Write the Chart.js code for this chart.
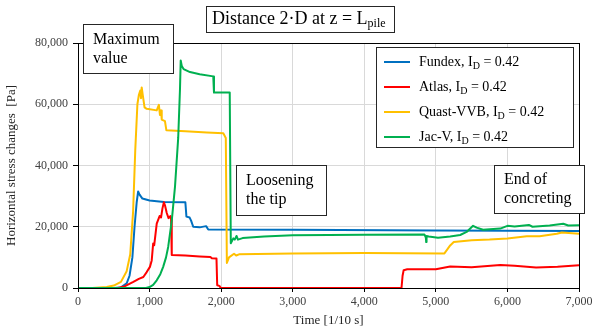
<!DOCTYPE html>
<html>
<head>
<meta charset="utf-8">
<script src="https://cdn.jsdelivr.net/npm/chart.js@4"></script>
<style>
  html, body { margin: 0; padding: 0; background: #fff; }
  #wrap { width: 592px; height: 329px; position: relative; }
</style>
</head>
<body>
<div id="wrap"><canvas id="stressChart"></canvas></div>
<script>
// time [1/10 s] and stress change [Pa]
const fundexT = [0, 500, 600, 680, 720, 760, 790, 820, 840, 860, 900, 1000, 1200, 1500, 1515, 1560, 1580, 1610, 1700, 1790, 1820, 3000, 5000, 7000];
const fundexV = [0, 0, 200, 1500, 4000, 10000, 20000, 28000, 31500, 30500, 29200, 28600, 28100, 28000, 23300, 23000, 22000, 20000, 19800, 20200, 19100, 19000, 18800, 18600];

const atlasT = [0, 550, 650, 773, 850, 913, 960, 1005, 1030, 1050, 1065, 1100, 1140, 1160, 1180, 1200, 1215, 1240, 1265, 1290, 1300, 1310, 1500, 1700, 1850, 1870, 1935, 1945, 1975, 1995, 4520, 4535, 4550, 4600, 5000, 5200, 5500, 5900, 6100, 6400, 6700, 7000];
const atlasV = [0, 0, 500, 2000, 3000, 3600, 5200, 6900, 9000, 14500, 14000, 21000, 23500, 23000, 26000, 28000, 27000, 24500, 22800, 23500, 22500, 10800, 10600, 10300, 10100, 9700, 9600, 900, 700, 0, 0, 4000, 5800, 6100, 6100, 7000, 6800, 7500, 7300, 6700, 6900, 7400];

const quastT = [0, 200, 400, 500, 600, 680, 730, 770, 800, 830, 850, 870, 880, 890, 905, 930, 960, 1100, 1130, 1145, 1160, 1170, 1215, 1235, 1500, 1800, 2030, 2065, 2080, 2110, 2180, 2210, 2250, 3000, 4000, 5120, 5200, 5250, 5500, 5750, 6000, 6270, 6450, 6690, 6760, 7000];
const quastV = [0, 0, 300, 800, 2000, 5500, 11000, 25000, 45000, 60000, 63000, 64500, 62000, 65500, 63000, 59000, 58500, 58000, 59800, 56500, 58000, 55000, 54500, 51500, 51200, 50800, 50500, 49000, 8200, 10000, 11200, 10600, 11000, 11300, 11400, 11300, 13900, 15000, 15600, 15800, 16200, 16900, 16900, 17700, 18100, 17700];

const jacT = [0, 950, 1000, 1050, 1100, 1150, 1190, 1230, 1260, 1310, 1355, 1400, 1425, 1435, 1450, 1475, 1565, 1700, 1890, 1900, 2120, 2135, 2170, 2190, 2215, 2235, 2300, 2600, 3000, 4000, 4840, 4860, 4865, 4870, 4900, 5030, 5200, 5340, 5430, 5520, 5570, 5660, 5900, 6000, 6100, 6300, 6350, 6590, 6780, 6850, 7000];
const jacV = [0, 0, 300, 1000, 2500, 4500, 6900, 10000, 13400, 22000, 33000, 49000, 65000, 74300, 72500, 71500, 70500, 69800, 69100, 63800, 63800, 14600, 16200, 15800, 17000, 15800, 16300, 16800, 17200, 17400, 17500, 16500, 15000, 17000, 16800, 16400, 16800, 17300, 18300, 20300, 19700, 19000, 19400, 20300, 20100, 20600, 20000, 20400, 21000, 20400, 20500];

const seriesNames = ['Fundex', 'Atlas', 'Quast-VVB', 'Jac-V'];
const seriesColors = ['#0070C0', '#FF0000', '#FFC000', '#00B050'];
const xTicksMax = 7000;
const yTicksMax = 80000;

function pairs(t, v) {
    return t.map((x, i) => ({ x: x, y: v[i] }));
}

const serif = '"Liberation Serif", "Times New Roman", serif';

function box(ctx, x, y, w, h) {
    ctx.save();
    ctx.fillStyle = '#fff';
    ctx.fillRect(x, y, w, h);
    ctx.strokeStyle = '#262626';
    ctx.lineWidth = 1;
    ctx.strokeRect(x + 0.5, y + 0.5, w, h);
    ctx.restore();
}

// text with a subscript part: main, sub, rest
function subText(ctx, x, y, main, sub, rest, size) {
    ctx.font = size + 'px ' + serif;
    ctx.fillText(main, x, y);
    x += ctx.measureText(main).width;
    ctx.font = Math.round(size * 0.68) + 'px ' + serif;
    ctx.fillText(sub, x, y + size * 0.28);
    x += ctx.measureText(sub).width;
    ctx.font = size + 'px ' + serif;
    ctx.fillText(rest, x, y);
}

const extras = {
    id: 'extras',
    afterDatasetsDraw(chart) {
        const ctx = chart.ctx;
        const a = chart.chartArea;
        ctx.save();
        ctx.strokeStyle = '#000';
        ctx.lineWidth = 1;
        ctx.strokeRect(Math.round(a.left) + 0.5, Math.round(a.top) + 0.5, Math.round(a.right - a.left), Math.round(a.bottom - a.top));
        ctx.restore();
    },
    afterDraw(chart) {
        const ctx = chart.ctx;
        ctx.save();
        ctx.fillStyle = '#000';
        ctx.textBaseline = 'middle';

        // title
        box(ctx, 206, 6, 188, 26);
        subText(ctx, 212, 19, 'Distance 2\u00B7D at z = L', 'pile', '', 18);

        // legend
        box(ctx, 376, 47, 197, 100);
        const rows = [62, 87, 112, 137];
        seriesNames.forEach((n, i) => {
            ctx.strokeStyle = seriesColors[i];
            ctx.lineWidth = 2;
            ctx.beginPath();
            ctx.moveTo(384, rows[i]);
            ctx.lineTo(410, rows[i]);
            ctx.stroke();
            ctx.fillStyle = '#000';
            subText(ctx, 419, rows[i], n + ', I', 'D', ' = 0.42', 14);
        });

        // notes
        ctx.font = '16px ' + serif;
        box(ctx, 83, 24, 90, 49);
        ctx.fillText('Maximum', 93, 40);
        ctx.fillText('value', 93, 59);

        box(ctx, 236, 165, 90, 50);
        ctx.fillText('Loosening', 246, 181);
        ctx.fillText('the tip', 246, 200);

        box(ctx, 494, 165, 90, 48);
        ctx.fillText('End of', 504, 180);
        ctx.fillText('concreting', 504, 199);
        ctx.restore();
    }
};

const ctx = document.getElementById('stressChart').getContext('2d');
const stressChart = new Chart(ctx, {
    type: 'line',
    data: {
        datasets: [
            { label: seriesNames[0], data: pairs(fundexT, fundexV), borderColor: seriesColors[0], order: 3 },
            { label: seriesNames[1], data: pairs(atlasT, atlasV), borderColor: seriesColors[1], order: 2 },
            { label: seriesNames[2], data: pairs(quastT, quastV), borderColor: seriesColors[2], order: 1 },
            { label: seriesNames[3], data: pairs(jacT, jacV), borderColor: seriesColors[3], order: 0 }
        ]
    },
    options: {
        responsive: true,
        maintainAspectRatio: false,
        animation: false,
        elements: {
            point: { radius: 0 },
            line: { borderWidth: 2, tension: 0, borderJoinStyle: 'round', fill: false }
        },
        layout: { padding: { left: 0, right: 13, top: 43, bottom: 0 } },
        plugins: {
            legend: { display: false },
            tooltip: { enabled: false }
        },
        scales: {
            x: {
                type: 'linear',
                min: 0,
                max: xTicksMax,
                ticks: { stepSize: 1000, color: '#404040', padding: 3, maxRotation: 0, font: { family: serif, size: 12 } },
                grid: { color: '#d9d9d9', tickColor: '#000', tickLength: 4 },
                border: { color: '#000' },
                title: { display: true, text: 'Time [1/10 s]', color: '#262626', padding: { top: 0, bottom: 1 }, font: { family: serif, size: 13 } },
                afterFit(s) { s.height = 41; s.paddingLeft = 0; s.paddingRight = 0; }
            },
            y: {
                min: 0,
                max: yTicksMax,
                ticks: { stepSize: 20000, color: '#404040', padding: 5, font: { family: serif, size: 12 } },
                grid: { color: '#d9d9d9', tickColor: '#000', tickLength: 5 },
                border: { color: '#000' },
                title: { display: true, text: 'Horizontal stress changes  [Pa]', color: '#262626', padding: { top: 4, bottom: 0 }, font: { family: serif, size: 13 } },
                afterFit(s) { s.width = 78; s.paddingTop = 0; s.paddingBottom = 0; }
            }
        }
    },
    plugins: [extras]
});
</script>
</body>
</html>
